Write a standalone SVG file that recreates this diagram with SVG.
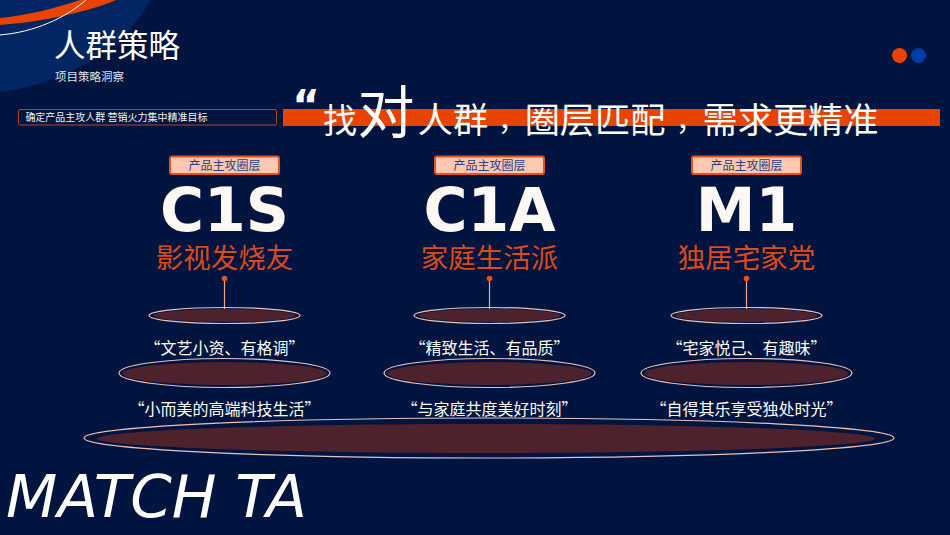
<svg xmlns="http://www.w3.org/2000/svg" width="950" height="535" viewBox="0 0 950 535">
<defs>
<linearGradient id="ring" x1="0" y1="0" x2="1" y2="0"><stop offset="0" stop-color="#f3c0ac"/><stop offset="0.5" stop-color="#d6c4cf"/><stop offset="1" stop-color="#f3c0ac"/></linearGradient>
</defs>
<style>
text{font-family:"Noto Sans CJK SC","DejaVu Sans",sans-serif;text-anchor:middle}
.w{fill:#fff}
.hl{font-size:35.200px}
.cm{font-size:28px}
.tag rect{fill:#fcc9b0;stroke:#e8501c;stroke-width:2}
.tag text{font-size:12px;fill:#2b3f86}
.big{font-family:"DejaVu Sans",sans-serif;font-weight:700;font-size:60px;fill:#fff8f5}
.name{font-size:27.500px;fill:#dc4a1a}
.quote{font-size:16px;fill:#fff}
.ro{fill:none;stroke:url(#ring);stroke-width:1.2}
.ri{fill:#4d222d}
.stem{stroke:#f0a488;stroke-width:1.2;fill:none}
.dot{fill:#e8501c}
</style>
<rect width="950" height="535" fill="#001440"/>
<g id="corner">
<path d="M0,0H150C125,50 60,85 0,92Z" fill="#012663"/>
<path d="M0,18C30,15 55,8 80,0H116C85,13 40,22 0,25Z" fill="#e84300"/>
<path d="M0,35C35,32 65,18 86,0" fill="none" stroke="#fff" stroke-width="1"/>
</g>
<g id="header">
<text x="117" y="57" class="w" style="font-size:31.500px">人群策略</text>
<text x="89.500" y="81" style="font-size:11.500px;fill:#dfe3ea">项目策略洞察</text>
</g>
<g id="dots">
<circle cx="899.500" cy="55.500" r="7.500" fill="#e84300"/>
<circle cx="918.500" cy="55.500" r="7.500" fill="#003da5"/>
</g>
<g id="subtitle">
<rect x="18.500" y="109.500" width="258" height="15.500" rx="1.500" fill="none" stroke="#b8401f" stroke-width="1"/>
<text x="116.500" y="121" style="font-size:10px;fill:#f2f2f2">确定产品主攻人群 营销火力集中精准目标</text>
</g>
<g id="headline">
<rect x="283" y="109" width="657" height="17" fill="#e84300"/>
<text x="306" y="120" class="w" style="font-family:'DejaVu Sans',sans-serif;font-size:42px;font-weight:700">“</text>
<text x="340" y="133" class="w" style="font-size:34px">找</text>
<text x="386" y="133" class="w" style="font-size:57px">对</text>
<text x="453" y="133" class="w hl">人群</text>
<text x="512" y="131" class="w cm">，</text>
<text x="595" y="133" class="w hl">圈层匹配</text>
<text x="690" y="131" class="w cm">，</text>
<text x="790.500" y="133" class="w hl">需求更精准</text>
</g>
<g id="connectors">
<line class="stem" x1="224.500" y1="278" x2="224.500" y2="319"/>
<line class="stem" x1="489.500" y1="278" x2="489.500" y2="319"/>
<line class="stem" x1="746.500" y1="278" x2="746.500" y2="319"/>
<circle class="dot" cx="224.500" cy="278.500" r="2.800"/>
<circle class="dot" cx="489.500" cy="278.500" r="2.800"/>
<circle class="dot" cx="746.500" cy="278.500" r="2.800"/>
</g>
<g id="col-c1s">
<g class="tag"><rect x="170" y="156.500" width="109" height="17.500" rx="2"/><text x="224.500" y="170">产品主攻圈层</text></g>
<text class="big" x="224.500" y="231">C1S</text>
<text class="name" x="224.500" y="268">影视发烧友</text>
</g>
<g id="col-c1a">
<g class="tag"><rect x="435" y="156.500" width="109" height="17.500" rx="2"/><text x="489.500" y="170">产品主攻圈层</text></g>
<text class="big" x="489.500" y="231">C1A</text>
<text class="name" x="489.500" y="268">家庭生活派</text>
</g>
<g id="col-m1">
<g class="tag"><rect x="692" y="156.500" width="109" height="17.500" rx="2"/><text x="746.500" y="170">产品主攻圈层</text></g>
<text class="big" x="746.500" y="231">M1</text>
<text class="name" x="746.500" y="268">独居宅家党</text>
</g>
<g id="ring-1-c1s">
<ellipse class="ri" cx="224.500" cy="315.500" rx="71" ry="6.500"/><ellipse class="ro" cx="224.500" cy="315.500" rx="75.500" ry="8"/>
</g>
<g id="ring-1-c1a">
<ellipse class="ri" cx="489.500" cy="315.500" rx="71" ry="6.500"/><ellipse class="ro" cx="489.500" cy="315.500" rx="75.500" ry="8"/>
</g>
<g id="ring-1-m1">
<ellipse class="ri" cx="746.500" cy="315.500" rx="71" ry="6.500"/><ellipse class="ro" cx="746.500" cy="315.500" rx="75.500" ry="8"/>
</g>
<g id="ring-2-c1s">
<text class="quote" x="224.500" y="354">“文艺小资、有格调”</text>
<ellipse class="ri" cx="224.500" cy="373.500" rx="102" ry="11.500"/><ellipse class="ro" cx="224.500" cy="373" rx="105.500" ry="14.500"/>
</g>
<g id="ring-2-c1a">
<text class="quote" x="489.500" y="354">“精致生活、有品质”</text>
<ellipse class="ri" cx="489.500" cy="373.500" rx="102" ry="11.500"/><ellipse class="ro" cx="489.500" cy="373" rx="105.500" ry="14.500"/>
</g>
<g id="ring-2-m1">
<text class="quote" x="746.500" y="354">“宅家悦己、有趣味”</text>
<ellipse class="ri" cx="746.500" cy="373.500" rx="102" ry="11.500"/><ellipse class="ro" cx="746.500" cy="373" rx="105.500" ry="14.500"/>
</g>
<g id="ring-3">
<text class="quote" x="224.500" y="415">“小而美的高端科技生活”</text>
<text class="quote" x="489.500" y="415">“与家庭共度美好时刻”</text>
<text class="quote" x="746.500" y="415">“自得其乐享受独处时光”</text>
<ellipse class="ri" cx="486" cy="438.500" rx="389" ry="14.500"/><ellipse class="ro" cx="489" cy="438" rx="405" ry="20"/>
</g>
<text id="match" x="156.500" y="517" class="w" style="font-family:'DejaVu Sans',sans-serif;font-style:italic;font-size:59.500px">MATCH TA</text>
</svg>
